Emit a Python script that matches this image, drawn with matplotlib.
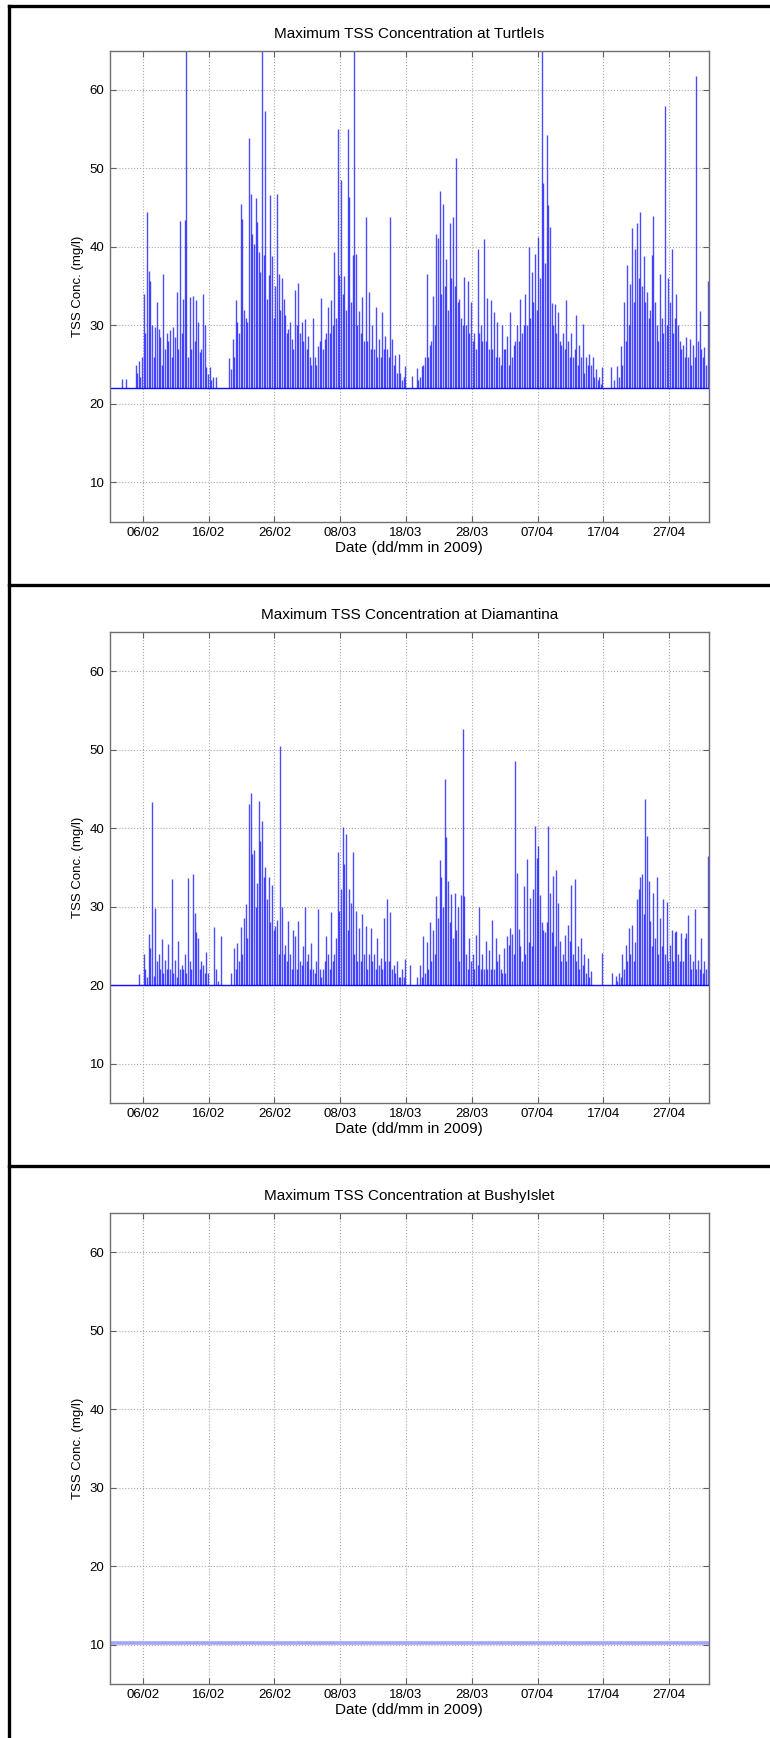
import matplotlib

matplotlib.use("Agg")
import matplotlib.dates as mdates
import matplotlib.pyplot as plt
import pandas as pd
from matplotlib.lines import Line2D

plt.rcParams["font.family"] = ["Liberation Sans", "DejaVu Sans"]

# axis range and ticks
x_start = "2009-02-01"
x_end = "2009-05-03"
tick_dates = ["2009-02-06", "2009-02-16", "2009-02-26", "2009-03-08", "2009-03-18",
              "2009-03-28", "2009-04-07", "2009-04-17", "2009-04-27"]
y_ticks = [10, 20, 30, 40, 50, 60]

# peak values every 6 hours from 2009-02-01 03:00, one day per row
turtle_base = 22.0
turtle_peaks = [
    22, 22, 22, 22,
    22, 22, 22, 23.2,
    22, 23.2, 22, 22,
    22, 22, 22, 25,
    24, 25.5, 23.5, 26,
    34, 29, 44.5, 37,
    35.7, 30, 26, 29.8,
    33, 29.6, 28.5, 25,
    36.6, 27, 29, 28,
    29.4, 26, 29.8, 28.5,
    34.3, 27, 43.3, 29,
    33.4, 43.5, 68, 26,
    33.6, 27, 33.8, 28,
    33.2, 30.4, 26.6, 27,
    34, 30, 24.7, 23.8,
    24.7, 23, 23.4, 22,
    23.4, 22, 22, 22,
    22, 22, 22, 22,
    25.8, 24.5, 28.3, 26,
    33.2, 30.4, 29, 45.5,
    43.6, 32, 31, 30.5,
    53.9, 46.8, 41.7, 40.4,
    46.3, 43.2, 39.4, 36.8,
    68, 39, 57.3, 33.4,
    36.4, 46.6, 38.9, 31,
    35, 46.8, 36.6, 32,
    36, 33.4, 31.3, 29,
    29.6, 30.4, 28.3, 27,
    34.5, 30, 35.4, 29,
    30.4, 28, 30.8, 27,
    28.7, 26, 25, 31,
    26, 25, 27.4, 28,
    33.5, 27, 28.3, 29,
    32.3, 29, 33.2, 30,
    39.3, 31, 55, 36.4,
    48.5, 34, 36.3, 32,
    55, 46.4, 33, 39,
    67, 39.1, 30, 31.9,
    29, 33.6, 28, 43.8,
    28, 34.3, 27, 30,
    27, 32.3, 26, 28.3,
    26, 31.7, 27, 28.7,
    27, 26, 43.8, 28.3,
    25, 26.2, 24, 26.4,
    24, 23, 23.5, 24.9,
    22, 22, 22, 23.6,
    22, 22, 24.6, 23,
    23.5, 24.9, 25, 26,
    36.5, 26, 27.5, 28,
    33.8, 30, 41.6, 41.1,
    47.1, 34, 45.5, 35,
    38.5, 32, 43, 36,
    43.8, 35, 51.4, 33,
    33.4, 31, 30, 36.2,
    30, 35.7, 29, 33,
    28, 29.1, 27, 39.8,
    29, 30, 28, 41,
    28, 33.5, 27, 33.3,
    27, 31.7, 26, 30.4,
    26, 25, 30, 27,
    27, 28.7, 25, 31.7,
    26, 27.5, 28, 30,
    28, 33.4, 29, 30,
    34, 30, 40, 31,
    36.8, 33, 39.1, 32,
    41.3, 36, 70, 48.1,
    38, 54.3, 45.4, 42.6,
    32.9, 30, 32.8, 29,
    31.7, 28, 27.5, 29,
    27, 33.2, 28, 26,
    29, 26, 27, 31.4,
    25, 27.5, 26, 30.2,
    24, 26, 25, 26.4,
    25, 26, 23.5, 24.5,
    23, 23.5, 22.5, 24.7,
    22, 22, 22, 22,
    24.7, 22, 23, 22,
    24.9, 23.5, 27.4, 25,
    33, 28, 37.7, 30,
    35.3, 42.4, 33, 39.8,
    43, 36, 44.4, 35,
    38.9, 33, 34.3, 31,
    32, 39, 44, 33,
    30, 28, 36.5, 31,
    29, 58, 30, 36,
    33, 39.7, 29, 31,
    34, 30, 28, 27,
    27.5, 26, 28.5, 26,
    28.3, 25, 27.5, 26,
    61.8, 28, 31.9, 27,
    26, 27.2, 25, 35.7,
]

diamantina_base = 20.0
diamantina_peaks = [
    20, 20, 20, 20,
    20, 20, 20, 20,
    20, 20, 20, 20,
    20, 20, 20, 20,
    20, 21.4, 20, 20,
    23.9, 22, 21, 26.5,
    24.7, 43.3, 21.2, 29.8,
    23, 23.9, 22, 25.8,
    21.5, 23.2, 22, 25.2,
    22, 33.5, 21.5, 23.2,
    21, 25.6, 22, 22.5,
    22, 24, 21.5, 33.6,
    23, 22, 34.2, 29.2,
    26.8, 26, 22, 23,
    22.5, 21.5, 24.2, 21.5,
    20, 20, 20, 27.4,
    22, 20.5, 20, 26.3,
    20, 20, 20, 20,
    20, 21.5, 20, 24.7,
    22, 25.4, 23, 27.4,
    24, 28.5, 30.3, 26,
    43, 44.5, 36.7, 37.2,
    30, 33, 43.4, 38.4,
    40.9, 33.7, 35, 31,
    33.8, 28, 32.8, 27,
    27.5, 28.3, 24, 50.5,
    30, 24, 25.1, 23,
    28.2, 23.9, 22, 27,
    26.2, 22, 28.2, 23,
    22.5, 25, 29.9, 23,
    24, 22, 25.4, 22,
    21.5, 23, 29.7, 22,
    21, 22, 23, 26.2,
    24, 22, 29.3, 23,
    24, 26, 36.9, 29.4,
    32.2, 40.1, 35.4, 39.3,
    27, 32.2, 30.5, 37,
    24, 29.4, 23, 27.3,
    23, 29.1, 24, 27.5,
    22, 24, 27.2, 23,
    24, 22, 26, 22.5,
    23.5, 22, 28.5, 23,
    30.9, 23, 29.3, 22,
    22.5, 21.5, 23, 21,
    21, 22, 21, 23.3,
    20, 20, 22.6, 20,
    20, 20, 21, 20,
    22.5, 21, 26.3, 21.5,
    25.5, 22, 28, 23,
    27, 24, 31.4, 28.5,
    35.9, 33.7, 30, 46.2,
    38.8, 33.2, 28, 31.6,
    26, 31.7, 27, 30,
    23, 31.5, 52.6, 31.3,
    24, 22, 26, 23,
    24, 22, 26.4, 22.5,
    29.9, 22, 24, 22,
    25.6, 22, 24.5, 22,
    28.3, 22, 26, 23,
    24, 22, 21.5, 24.7,
    21.5, 26.2, 25.1, 27.3,
    26.5, 24, 48.6, 34.3,
    27.1, 25, 23, 32.6,
    24, 36.1, 25.5, 31.1,
    25, 32.2, 40.3, 36.2,
    37.7, 31.5, 28, 27,
    26.8, 28, 40.3, 31.7,
    26.8, 33.9, 25, 34.7,
    30.5, 25.6, 23, 24,
    26.4, 23, 27.6, 25.6,
    32.7, 24, 33.5, 23,
    25, 22, 26, 22.5,
    24, 21.5, 23.4, 21,
    21.8, 20, 20, 20,
    20, 20, 20, 24.1,
    20, 20, 20, 20,
    20, 21.5, 20, 21.2,
    20.5, 21.5, 21, 23.9,
    22, 25.1, 23, 27.3,
    24, 27.7, 23, 25.5,
    30.9, 32.2, 33.7, 34.2,
    29, 43.7, 39, 33.2,
    28.1, 25, 31.7, 26,
    33.7, 24, 28.5, 25,
    30.9, 24, 30.6, 23,
    25.1, 27, 23, 26.8,
    26.9, 24, 23, 26.6,
    23, 26, 26.6, 28.9,
    23.9, 22, 23, 29.7,
    22, 23.2, 22, 26,
    21.5, 23, 22, 36.4,
]

bushy_dates = [x_start, x_end]
bushy_values = [10.2, 10.2]


def style_axes(ax, title):
    ax.set_xlim(pd.Timestamp(x_start), pd.Timestamp(x_end))
    ax.set_ylim(5, 65)
    ax.set_xticks(pd.to_datetime(tick_dates))
    ax.xaxis.set_major_formatter(mdates.DateFormatter("%d/%m"))
    ax.set_yticks(y_ticks)
    ax.grid(True, linestyle=":", color="#a8a8a8", linewidth=0.8)
    ax.tick_params(direction="in", top=True, right=True, length=4,
                   color="#606060", labelsize=9.5, pad=4)
    for spine in ax.spines.values():
        spine.set_color("#707070")
        spine.set_linewidth(1.0)
    ax.set_title(title, fontsize=11, pad=9)
    ax.set_xlabel("Date (dd/mm in 2009)", fontsize=11, labelpad=1)
    ax.set_ylabel("TSS Conc. (mg/l)", fontsize=9.5, labelpad=4)


def draw_spikes(ax, base, peaks):
    times = pd.date_range("2009-02-01 03:00", periods=len(peaks), freq="6h")
    ax.plot(pd.to_datetime([x_start, x_end]), [base, base], color="#1010ff", linewidth=1.0)
    ax.vlines(times, base, peaks, color="#0000ff", alpha=0.7, linewidth=1.0)


fig = plt.figure(figsize=(7.7, 17.38), dpi=100)

left, width, height = 0.1429, 0.7773, 0.2710
ax1 = fig.add_axes([left, 0.6998, width, height])
draw_spikes(ax1, turtle_base, turtle_peaks)
style_axes(ax1, "Maximum TSS Concentration at TurtleIs")

ax2 = fig.add_axes([left, 0.3655, width, height])
draw_spikes(ax2, diamantina_base, diamantina_peaks)
style_axes(ax2, "Maximum TSS Concentration at Diamantina")

ax3 = fig.add_axes([left, 0.0312, width, height])
ax3.plot(pd.to_datetime(bushy_dates), bushy_values, color="#a4a4ff", linewidth=2.6)
style_axes(ax3, "Maximum TSS Concentration at BushyIslet")

# table-like frame around the panels
frame_lw = 2.4
fig.add_artist(Line2D([0.0117, 0.0117], [0, 0.9966], color="black", linewidth=frame_lw))
for y in [0.9966, 0.6634, 0.3291]:
    fig.add_artist(Line2D([0.0117, 1.0], [y, y], color="black", linewidth=frame_lw))

fig.savefig("out.png", dpi=100)
